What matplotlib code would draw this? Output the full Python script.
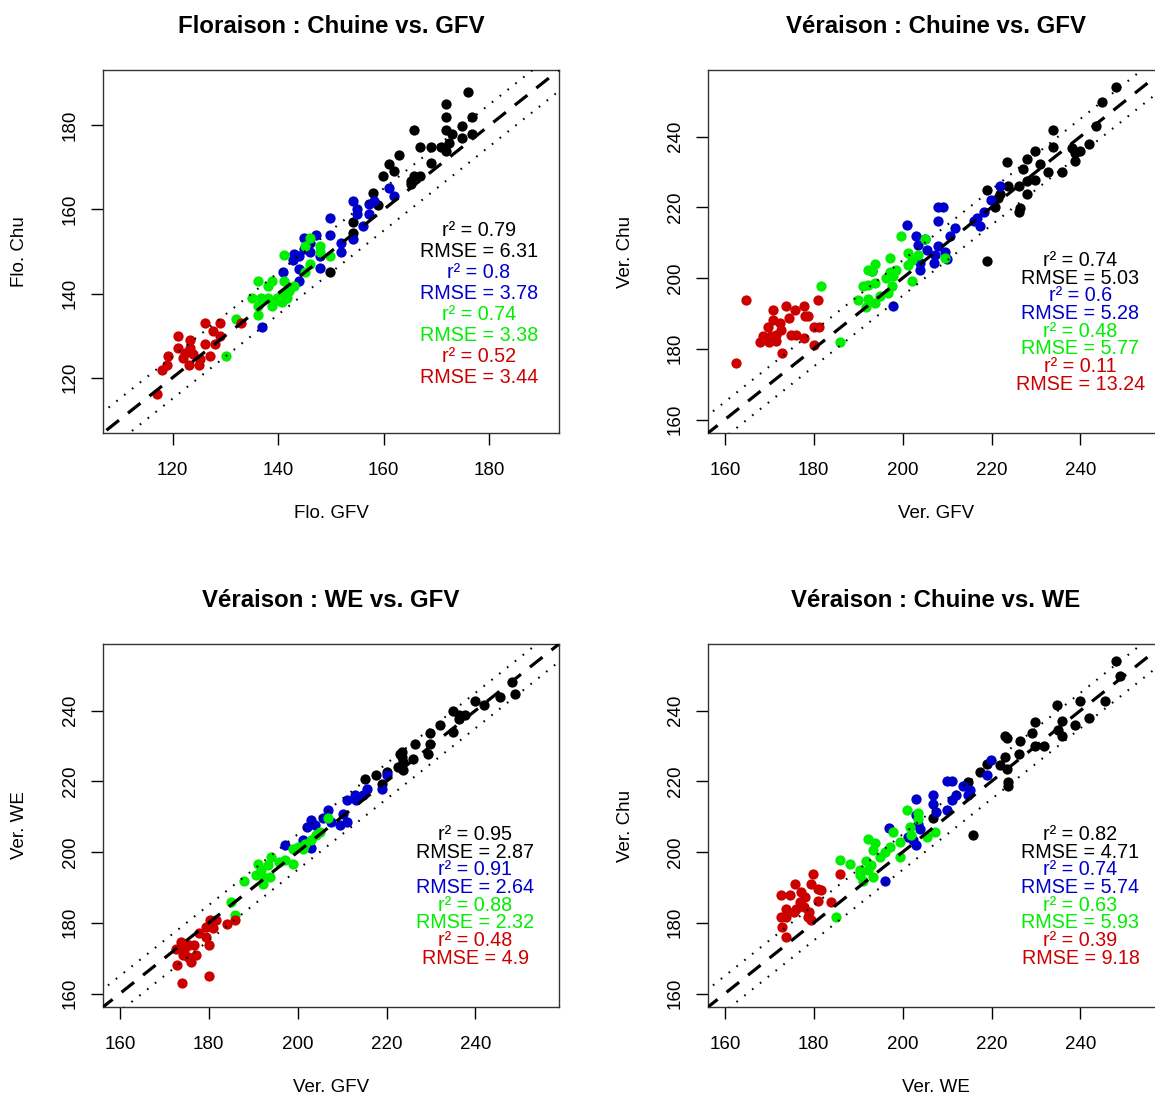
import matplotlib
matplotlib.use("Agg")
import matplotlib.pyplot as plt
import numpy as np

plt.rcParams['font.family'] = ['Liberation Sans', 'DejaVu Sans']

# couleurs des groupes (noir, bleu, vert, rouge)
group_colors = ['black', '#0000CD', '#00EE00', '#CD0000']

# ---- Floraison : Chuine vs. GFV
flo_black_x = [175.9, 171.8, 171.8, 176.8, 171.8, 174.8, 172.9, 174.8, 176.8, 165.8, 166.8, 169.0, 170.9, 171.8, 172.4,
               162.8, 161.0, 169.0, 161.9, 159.8, 165.8, 166.8, 165.2, 165.2, 157.9, 158.9, 154.2, 154.2, 149.9]
flo_black_y = [187.9, 185.2, 182.0, 182.0, 179.0, 179.8, 178.0, 177.1, 178.0, 179.0, 174.9, 174.9, 174.9, 173.9, 175.9,
               172.9, 170.9, 171.1, 169.1, 167.9, 167.9, 167.9, 166.7, 166.0, 164.0, 161.0, 157.0, 154.4, 145.2]
flo_blue_x = [161.0, 161.9, 154.2, 157.2, 158.1, 155.0, 155.0, 157.2, 149.9, 156.0, 154.2, 151.9, 151.9, 149.9, 147.1,
              144.9, 144.9, 143.9, 142.8, 146.0, 147.9, 147.9, 143.9, 140.9, 143.9, 137.0, 146.0, 143.0]
flo_blue_y = [165.0, 163.2, 162.1, 161.2, 162.0, 160.2, 159.0, 159.0, 158.0, 156.0, 152.9, 152.1, 149.8, 153.9, 153.9,
              153.3, 150.5, 149.0, 147.9, 149.8, 148.9, 146.0, 145.9, 145.1, 142.9, 132.0, 152.1, 149.3]
flo_green_x = [146.0, 147.9, 147.9, 149.9, 145.0, 141.1, 146.0, 145.0, 136.1, 138.8, 141.1, 138.1, 143.0, 142.1, 140.8,
               135.1, 136.8, 138.1, 139.7, 140.8, 138.9, 136.1, 136.1, 132.0, 130.1, 140.3, 141.7]
flo_green_y = [153.1, 151.3, 149.8, 148.9, 151.3, 149.1, 147.1, 145.1, 142.9, 142.9, 142.9, 141.9, 141.9, 140.6, 139.8,
               139.0, 139.0, 139.0, 139.0, 137.9, 137.0, 137.0, 134.8, 134.0, 125.1, 138.2, 139.0]
flo_red_x = [133.0, 126.1, 128.9, 127.7, 128.9, 121.1, 123.2, 121.1, 123.2, 126.1, 128.0, 119.2, 122.0, 123.9, 127.1,
             124.9, 123.0, 117.9, 118.9, 117.1, 122.3, 125.2]
flo_red_y = [132.9, 133.0, 132.9, 131.0, 129.8, 129.8, 129.0, 127.1, 127.1, 127.9, 127.9, 125.1, 124.7, 125.5, 125.1,
             123.1, 123.1, 121.9, 123.1, 116.0, 125.9, 124.3]

# ---- Véraison : Chuine vs. GFV
vcg_black_x = [248.0, 244.9, 243.5, 233.8, 233.8, 238.1, 240.0, 241.9, 238.8, 229.8, 227.9, 223.4, 231.0, 227.0, 232.8,
               235.8, 223.8, 226.1, 227.9, 229.8, 218.9, 221.9, 221.5, 227.9, 220.8, 226.4, 226.1, 218.9, 238.8]
vcg_black_y = [253.9, 249.7, 243.0, 241.9, 236.9, 236.7, 235.8, 237.9, 233.1, 235.8, 233.7, 232.9, 232.2, 230.8, 230.1,
               230.1, 225.9, 225.9, 227.3, 227.8, 224.8, 223.8, 222.6, 223.8, 220.0, 219.8, 218.8, 204.9, 235.3]
vcg_blue_x = [221.9, 219.8, 218.3, 216.8, 216.0, 217.5, 208.0, 209.1, 208.0, 200.9, 211.8, 210.6, 202.9, 205.0, 203.5,
              205.4, 208.0, 209.5, 209.9, 207.3, 203.9, 203.9, 207.0, 197.8, 193.0]
vcg_blue_y = [225.9, 222.1, 218.8, 216.9, 216.0, 214.6, 220.0, 220.0, 216.0, 214.9, 214.1, 211.8, 212.0, 211.1, 209.4,
              208.0, 209.1, 207.5, 205.4, 206.6, 204.2, 202.4, 204.2, 192.0, 202.1]
vcg_green_x = [199.7, 205.0, 201.2, 203.5, 197.1, 202.0, 201.2, 193.7, 192.2, 193.0, 197.1, 198.6, 196.3, 197.8, 202.0,
               191.1, 192.2, 193.7, 197.5, 181.7, 189.9, 192.2, 193.7, 196.7, 194.8, 191.8, 209.5, 185.8]
vcg_green_y = [212.0, 211.0, 207.1, 206.6, 205.8, 205.2, 203.8, 204.0, 202.4, 201.9, 201.6, 202.4, 200.0, 200.5, 199.1,
               197.8, 198.1, 198.6, 197.8, 197.8, 193.9, 194.1, 192.9, 195.8, 194.8, 191.8, 205.6, 181.8]
vcg_red_x = [164.7, 162.6, 180.9, 170.8, 173.8, 175.7, 177.8, 178.0, 174.5, 178.7, 170.8, 172.3, 169.6, 172.6, 180.1,
             181.2, 168.5, 171.5, 174.9, 176.0, 167.8, 170.0, 171.5, 177.8, 180.1, 172.8, 170.4]
vcg_red_y = [193.9, 176.0, 193.9, 191.1, 192.0, 191.1, 192.0, 189.4, 188.7, 189.2, 188.2, 187.3, 186.1, 185.4, 186.1,
             186.1, 183.5, 184.0, 184.0, 184.0, 181.8, 181.8, 182.1, 183.1, 181.2, 178.8, 183.5]

# ---- Véraison : WE vs. GFV
vwg_black_x = [248.2, 249.0, 245.6, 239.9, 242.0, 235.0, 237.7, 236.2, 235.0, 232.0, 229.8, 229.8, 229.4, 226.4, 223.0,
               223.4, 223.8, 225.9, 222.6, 223.8, 220.0, 217.7, 215.1, 218.9, 223.4, 236.2]
vwg_black_y = [248.0, 244.7, 243.8, 242.8, 241.6, 240.0, 238.8, 238.6, 233.9, 235.8, 233.6, 230.6, 227.8, 230.4, 227.8,
               226.8, 225.4, 226.4, 224.0, 223.1, 222.6, 221.8, 220.7, 219.3, 228.3, 237.6]
vwg_blue_x = [220.0, 218.9, 215.5, 214.7, 212.9, 211.0, 213.2, 206.8, 205.7, 207.6, 210.2, 211.0, 209.5, 203.1, 202.0,
              203.8, 201.2, 203.1, 197.1]
vwg_blue_y = [221.8, 217.9, 217.9, 216.0, 216.0, 214.6, 214.6, 211.8, 209.7, 208.5, 210.8, 208.5, 207.5, 209.0, 207.1,
              207.5, 203.3, 201.0, 201.9]
vwg_green_x = [206.8, 205.0, 204.2, 203.1, 201.6, 200.1, 199.0, 201.2, 197.1, 199.0, 195.9, 194.1, 191.1, 193.3, 191.8,
               190.7, 192.2, 193.7, 192.2, 188.0, 185.0, 185.8]
vwg_green_y = [209.7, 205.7, 204.7, 203.3, 202.4, 201.4, 200.9, 200.9, 197.7, 196.7, 197.2, 198.6, 196.7, 196.3, 194.9,
               193.4, 193.0, 193.0, 191.1, 191.8, 185.9, 182.1]
vwg_red_x = [180.2, 181.7, 184.0, 186.0, 179.4, 180.9, 177.9, 179.4, 173.8, 175.6, 172.6, 174.5, 176.7, 174.1, 175.9,
             172.9, 177.1, 180.0, 175.3, 180.0, 174.0]
vwg_red_y = [180.7, 180.7, 179.8, 180.9, 178.9, 178.4, 177.0, 176.0, 174.6, 173.7, 172.7, 172.4, 173.7, 170.9, 169.0,
             168.0, 170.9, 173.7, 170.4, 164.9, 162.9]

# ---- Véraison : Chuine vs. WE
vcw_black_x = [248.0, 249.0, 245.6, 240.0, 234.7, 241.9, 238.7, 235.8, 235.0, 235.8, 229.8, 229.1, 223.1, 223.4, 226.4,
               229.8, 231.7, 226.1, 223.1, 221.9, 223.4, 218.9, 217.4, 223.8, 223.8, 214.8, 206.9, 215.9]
vcw_black_y = [253.9, 249.7, 242.8, 242.8, 241.7, 237.8, 235.8, 236.9, 234.5, 232.9, 236.7, 233.6, 232.9, 232.2, 231.5,
               230.1, 230.1, 227.8, 226.8, 224.5, 223.5, 224.9, 222.6, 219.8, 218.8, 219.8, 209.7, 204.9]
vcw_blue_x = [219.9, 218.9, 209.9, 211.0, 213.6, 215.2, 214.8, 212.1, 206.9, 211.0, 202.9, 206.9, 209.9, 207.6, 202.9,
              203.5, 203.9, 201.2, 202.4, 202.9, 196.9, 196.0]
vcw_blue_y = [225.9, 221.8, 220.0, 220.0, 218.8, 217.4, 216.0, 216.0, 216.0, 214.6, 214.9, 213.6, 212.0, 211.3, 210.4,
              208.0, 206.6, 204.2, 203.3, 201.9, 206.8, 191.8]
vcw_green_x = [200.9, 203.5, 203.5, 201.6, 197.8, 201.9, 199.5, 205.4, 207.3, 197.1, 196.0, 194.8, 192.2, 193.7, 193.3,
               199.5, 185.8, 188.1, 191.8, 192.9, 190.3, 192.2, 193.3, 190.3, 191.1, 184.9]
vcw_green_y = [212.0, 211.0, 209.4, 207.1, 205.8, 204.9, 202.8, 204.2, 205.6, 201.4, 200.0, 198.6, 203.8, 202.5, 200.5,
               198.6, 197.8, 196.7, 197.6, 196.3, 194.8, 194.8, 192.9, 193.4, 191.8, 181.6]
vcw_red_x = [179.8, 185.8, 175.7, 179.4, 180.9, 181.7, 172.6, 174.7, 177.2, 178.0, 176.8, 180.9, 183.9, 173.8, 176.0,
             179.0, 172.6, 173.8, 175.6, 178.7, 179.3, 172.8, 173.8, 177.9]
vcw_red_y = [193.9, 193.9, 190.9, 191.1, 189.6, 189.4, 187.8, 187.8, 188.7, 187.3, 186.0, 186.1, 185.9, 184.0, 184.0,
             183.1, 181.6, 181.6, 183.1, 181.6, 180.7, 178.8, 176.0, 184.4]

# statistiques (r², RMSE) par groupe : noir, bleu, vert, rouge
flo_stats = ["0.79", "6.31", "0.8", "3.78", "0.74", "3.38", "0.52", "3.44"]
vcg_stats = ["0.74", "5.03", "0.6", "5.28", "0.48", "5.77", "0.11", "13.24"]
vwg_stats = ["0.95", "2.87", "0.91", "2.64", "0.88", "2.32", "0.48", "4.9"]
vcw_stats = ["0.82", "4.71", "0.74", "5.74", "0.63", "5.93", "0.39", "9.18"]

flo_lim = (110, 190)
ver_lim = (160, 255)
flo_ticks = [120, 140, 160, 180]
ver_ticks = [160, 180, 200, 220, 240]


def draw_panel(ax, xs, ys, stats, lim, ticks, title, xlab, ylab, txt_x, txt_y0):
    pad = (lim[1] - lim[0]) * 0.04
    lo, hi = lim[0] - pad, lim[1] + pad
    for x, y, col in zip(xs, ys, group_colors):
        ax.plot(x, y, 'o', color=col, markersize=7.4, markeredgewidth=0, zorder=2)
    line = np.array([lo - 20, hi + 20])
    ax.plot(line, line, color='black', lw=2.3, linestyle=(0, (5, 3.6)), zorder=3)
    ax.plot(line, line + 5, color='black', lw=1.5, linestyle=(0, (0.8, 4)), zorder=3)
    ax.plot(line, line - 5, color='black', lw=1.5, linestyle=(0, (0.8, 4)), zorder=3)
    for k, val in enumerate(stats):
        lab = ("r\u00b2 = " if k % 2 == 0 else "RMSE = ") + val
        ax.text(txt_x, txt_y0 - 5 * k, lab, color=group_colors[k // 2], fontsize=14.2,
                ha='center', va='center', zorder=4)
    ax.set_xlim(lo, hi)
    ax.set_ylim(lo, hi)
    ax.set_xticks(ticks)
    ax.set_yticks(ticks)
    ax.tick_params(length=8.6, width=1, labelsize=13.5, pad=9)
    ax.tick_params(axis='x', pad=12)
    ax.tick_params(axis='y', labelrotation=90)
    for t in ax.get_yticklabels():
        t.set_va('center')
    for s in ax.spines.values():
        s.set_linewidth(1)
        s.set_color('#333333')
    ax.set_title(title, fontsize=17.3, fontweight='bold', pad=26.5)
    ax.set_xlabel(xlab, fontsize=13.5, va='center')
    ax.set_ylabel(ylab, fontsize=13.5, va='center')
    ax.xaxis.set_label_coords(0.5, -81 / 363)
    ax.yaxis.set_label_coords(-83 / 456, 0.5)


fig = plt.figure(figsize=(11.55, 10.97), dpi=100)
w, h = 456 / 1155, 363 / 1097
ax1 = fig.add_axes([103 / 1155, 1 - 433 / 1097, w, h])
ax2 = fig.add_axes([708 / 1155, 1 - 433 / 1097, w, h])
ax3 = fig.add_axes([103 / 1155, 1 - 1007 / 1097, w, h])
ax4 = fig.add_axes([708 / 1155, 1 - 1007 / 1097, w, h])

draw_panel(ax1, [flo_black_x, flo_blue_x, flo_green_x, flo_red_x],
           [flo_black_y, flo_blue_y, flo_green_y, flo_red_y], flo_stats, flo_lim, flo_ticks,
           "Floraison : Chuine vs. GFV", "Flo. GFV", "Flo. Chu", 178, 155)
draw_panel(ax2, [vcg_black_x, vcg_blue_x, vcg_green_x, vcg_red_x],
           [vcg_black_y, vcg_blue_y, vcg_green_y, vcg_red_y], vcg_stats, ver_lim, ver_ticks,
           "Véraison : Chuine vs. GFV", "Ver. GFV", "Ver. Chu", 240, 205)
draw_panel(ax3, [vwg_black_x, vwg_blue_x, vwg_green_x, vwg_red_x],
           [vwg_black_y, vwg_blue_y, vwg_green_y, vwg_red_y], vwg_stats, ver_lim, ver_ticks,
           "Véraison : WE vs. GFV", "Ver. GFV", "Ver. WE", 240, 205)
draw_panel(ax4, [vcw_black_x, vcw_blue_x, vcw_green_x, vcw_red_x],
           [vcw_black_y, vcw_blue_y, vcw_green_y, vcw_red_y], vcw_stats, ver_lim, ver_ticks,
           "Véraison : Chuine vs. WE", "Ver. WE", "Ver. Chu", 240, 205)

fig.savefig("out.png", dpi=100)
